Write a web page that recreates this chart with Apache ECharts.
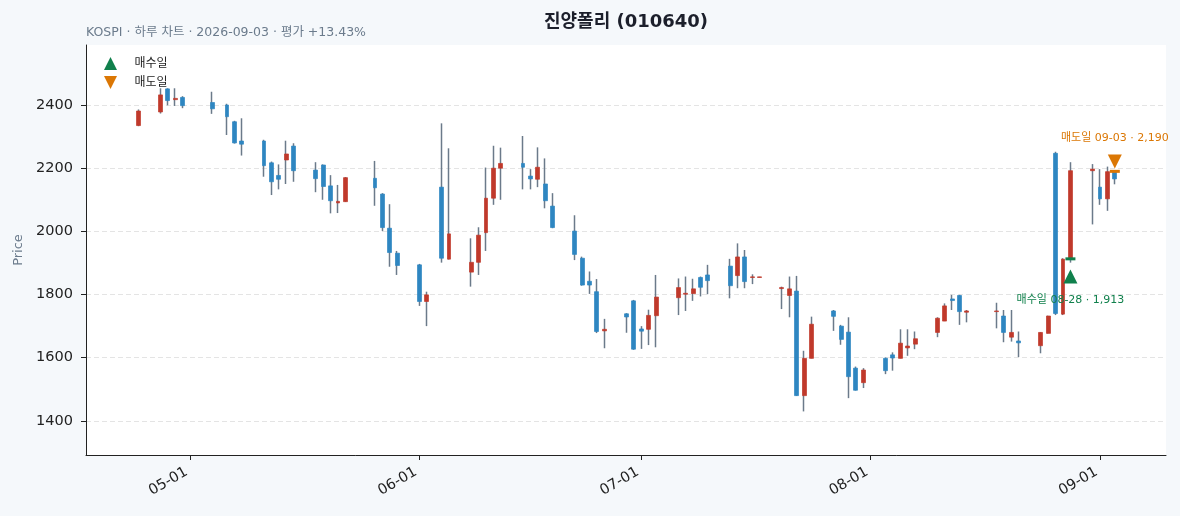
<!DOCTYPE html>
<html>
<head>
<meta charset="utf-8">
<script src="https://cdn.jsdelivr.net/npm/echarts@6/dist/echarts.min.js"></script>
<style>
html, body { margin: 0; padding: 0; background: #f5f8fb; }
#chart { width: 1180px; height: 516px; }
</style>
</head>
<body>
<div id="chart"></div>
<script>
// 일봉 데이터
var dates = [
	'2026-04-24', '2026-04-27', '2026-04-28', '2026-04-29', '2026-04-30',
	'2026-05-04', '2026-05-06', '2026-05-07', '2026-05-08', '2026-05-11',
	'2026-05-12', '2026-05-13', '2026-05-14', '2026-05-15', '2026-05-18',
	'2026-05-19', '2026-05-20', '2026-05-21', '2026-05-22', '2026-05-26',
	'2026-05-27', '2026-05-28', '2026-05-29', '2026-06-01', '2026-06-02',
	'2026-06-04', '2026-06-05', '2026-06-08', '2026-06-09', '2026-06-10',
	'2026-06-11', '2026-06-12', '2026-06-15', '2026-06-16', '2026-06-17',
	'2026-06-18', '2026-06-19', '2026-06-22', '2026-06-23', '2026-06-24',
	'2026-06-25', '2026-06-26', '2026-06-29', '2026-06-30', '2026-07-01',
	'2026-07-02', '2026-07-03', '2026-07-06', '2026-07-07', '2026-07-08',
	'2026-07-09', '2026-07-10', '2026-07-13', '2026-07-14', '2026-07-15',
	'2026-07-16', '2026-07-17', '2026-07-20', '2026-07-21', '2026-07-22',
	'2026-07-23', '2026-07-24', '2026-07-27', '2026-07-28', '2026-07-29',
	'2026-07-30', '2026-07-31', '2026-08-03', '2026-08-04', '2026-08-05',
	'2026-08-06', '2026-08-07', '2026-08-10', '2026-08-11', '2026-08-12',
	'2026-08-13', '2026-08-14', '2026-08-18', '2026-08-19', '2026-08-20',
	'2026-08-21', '2026-08-24', '2026-08-25', '2026-08-26', '2026-08-27',
	'2026-08-28', '2026-08-31', '2026-09-01', '2026-09-02', '2026-09-03'
];
var opens = [
	2335, 2378, 2451, 2417, 2424, 2408, 2400, 2347, 2286, 2286,
	2217, 2177, 2226, 2270, 2194, 2210, 2144, 2090, 2094, 2168,
	2118, 2010, 1931, 1894, 1778, 2140, 1912, 1871, 1902, 1996,
	2105, 2200, 2215, 2175, 2165, 2150, 2080, 2001, 1915, 1842,
	1809, 1685, 1739, 1780, 1691, 1690, 1733, 1790, 1801, 1803,
	1854, 1862, 1890, 1860, 1919, 1854, 1854, 1819, 1797, 1811,
	1480, 1598, 1748, 1700, 1681, 1567, 1521, 1598, 1609, 1598,
	1631, 1643, 1680, 1716, 1786, 1797, 1744, 1746, 1732, 1665,
	1653, 1638, 1677, 2247, 1738, 1913, 2192, 2140, 2103, 2190
];
var closes = [
	2381, 2432, 2414, 2421, 2398, 2388, 2363, 2280, 2276, 2208,
	2157, 2165, 2245, 2192, 2167, 2142, 2097, 2095, 2170, 2138,
	2012, 1933, 1892, 1778, 1799, 1915, 1992, 1902, 1988, 2105,
	2200, 2215, 2203, 2166, 2203, 2097, 2012, 1927, 1830, 1830,
	1683, 1690, 1729, 1627, 1684, 1734, 1792, 1822, 1804, 1818,
	1823, 1844, 1828, 1919, 1841, 1856, 1856, 1822, 1818, 1480,
	1598, 1706, 1731, 1658, 1540, 1497, 1561, 1559, 1599, 1646,
	1637, 1660, 1725, 1764, 1781, 1746, 1748, 1748, 1680, 1680,
	1647, 1680, 1732, 1740, 1912, 2192, 2197, 2103, 2189, 2166
];
var lows = [
	2333, 2373, 2399, 2397, 2390, 2372, 2305, 2278, 2240, 2173,
	2115, 2133, 2150, 2157, 2124, 2100, 2057, 2058, 2093, 2081,
	2001, 1888, 1862, 1764, 1700, 1901, 1911, 1825, 1862, 1938,
	2084, 2100, 2133, 2133, 2140, 2073, 2010, 1909, 1828, 1802,
	1678, 1630, 1679, 1625, 1628, 1640, 1633, 1735, 1748, 1780,
	1794, 1801, 1788, 1820, 1820, 1833, 1854, 1754, 1728, 1479,
	1430, 1598, 1685, 1641, 1472, 1496, 1504, 1548, 1559, 1598,
	1606, 1627, 1665, 1716, 1751, 1704, 1712, 1693, 1649, 1651,
	1602, 1614, 1677, 1735, 1735, 1901, 2022, 2084, 2065, 2149
];
var highs = [
	2386, 2453, 2453, 2453, 2428, 2442, 2404, 2350, 2358, 2290,
	2221, 2212, 2287, 2279, 2219, 2212, 2178, 2147, 2172, 2223,
	2121, 2086, 1938, 1897, 1809, 2342, 2263, 1978, 2013, 2202,
	2271, 2265, 2302, 2197, 2266, 2231, 2121, 2051, 1920, 1873,
	1849, 1723, 1741, 1783, 1700, 1752, 1862, 1851, 1857, 1850,
	1857, 1894, 1913, 1962, 1941, 1864, 1856, 1825, 1857, 1859,
	1622, 1730, 1751, 1704, 1728, 1572, 1567, 1601, 1617, 1690,
	1690, 1683, 1728, 1772, 1799, 1799, 1751, 1774, 1751, 1751,
	1683, 1681, 1733, 2252, 1915, 2219, 2213, 2197, 2205, 2194
];
var yTicks = [1400, 1600, 1800, 2000, 2200, 2400];
var xTicks = ['2026-05-01', '2026-06-01', '2026-07-01', '2026-08-01', '2026-09-01'];
// 매수/매도: [날짜, 체결가, 삼각형 표시 위치]
var buyPoint = ['2026-08-28', 1913, 1857];
var sellPoint = ['2026-09-03', 2190, 2221];

var upColor = '#c0392b';
var downColor = '#2e86c1';
var wickColor = '#6b7a8a';
var buyColor = '#10804c';
var sellColor = '#db7704';
var font = '"DejaVu Sans", "Noto Sans CJK KR", sans-serif';

function toTime(s) {
	var p = s.split('-');
	return Date.UTC(+p[0], +p[1] - 1, +p[2]);
}
function pad(n) { return (n < 10 ? '0' : '') + n; }
function fmtDay(t) {
	var d = new Date(t);
	return pad(d.getUTCMonth() + 1) + '-' + pad(d.getUTCDate());
}
function fmtPrice(v) {
	return String(v).replace(/\B(?=(\d{3})+(?!\d))/g, ',');
}

var wickData = dates.map(function (d, i) {
	return [toTime(d), opens[i], closes[i], lows[i], highs[i]];
});
var bodyData = dates.map(function (d, i) {
	return [toTime(d), opens[i], closes[i], Math.min(opens[i], closes[i]), Math.max(opens[i], closes[i])];
});
var xTickVals = xTicks.map(toTime);
var hour = 3600 * 1000;

var upTri = 'path://M5,0L10,10L0,10Z';
var downTri = 'path://M0,0L10,0L5,10Z';

var dom = document.getElementById('chart');
var myChart = echarts.init(dom);
var option = {
	animation: false,
	backgroundColor: '#f5f8fb',
	textStyle: { fontFamily: font },
	title: [{
		text: '진양폴리 (010640)',
		left: 626,
		top: 13,
		padding: 0,
		textAlign: 'center',
		textStyle: { fontSize: 18, fontWeight: 'bold', color: '#1c1f2b', fontFamily: font }
	}, {
		text: 'KOSPI · 하루 차트 · 2026-09-03 · 평가 +13.43%',
		left: 86,
		top: 26,
		padding: 0,
		textStyle: { fontSize: 12.5, fontWeight: 'normal', color: '#6b7b8c', fontFamily: font }
	}],
	legend: {
		data: ['매수일', '매도일'],
		orient: 'vertical',
		left: 104,
		top: 57,
		padding: 0,
		itemWidth: 14,
		itemHeight: 13,
		itemGap: 6,
		textStyle: { fontSize: 12, color: '#222', fontFamily: font, padding: [0, 0, 0, 12] }
	},
	grid: {
		left: 86,
		right: 14,
		top: 45,
		bottom: 61,
		show: true,
		backgroundColor: '#ffffff',
		borderWidth: 0
	},
	xAxis: {
		type: 'value',
		min: toTime('2026-04-17') - 1.5 * hour,
		max: toTime('2026-09-09') + 22 * hour,
		axisLine: { show: true, onZero: false, lineStyle: { color: '#222', width: 1 } },
		axisTick: { show: true, customValues: xTickVals, length: 5, lineStyle: { color: '#222' } },
		axisLabel: {
			customValues: xTickVals,
			rotate: 30,
			margin: 14,
			fontSize: 14.5,
			color: '#222',
			fontFamily: font,
			padding: [0, 4, 0, 0],
			formatter: function (v) { return fmtDay(v); }
		},
		splitLine: { show: false }
	},
	yAxis: {
		type: 'value',
		min: 1292,
		max: 2590,
		name: 'Price',
		nameLocation: 'middle',
		nameGap: 61,
		nameTextStyle: { color: '#6b7b8c', fontSize: 13, fontFamily: font },
		axisLine: { show: true, onZero: false, lineStyle: { color: '#222', width: 1 } },
		axisTick: { show: true, customValues: yTicks, length: 5, lineStyle: { color: '#222' } },
		axisLabel: {
			customValues: yTicks,
			margin: 13,
			fontSize: 14.5,
			color: '#222',
			fontFamily: font,
			formatter: function (v) { return String(v); }
		},
		splitLine: { show: true, lineStyle: { type: [5, 3], color: '#e4e4e4', width: 1 } }
	},
	series: [
		{
			name: 'wick',
			type: 'candlestick',
			data: wickData,
			barWidth: 1,
			silent: true,
			itemStyle: {
				color: 'rgba(0,0,0,0)',
				color0: 'rgba(0,0,0,0)',
				borderColor: wickColor,
				borderColor0: wickColor,
				borderWidth: 1.5
			}
		},
		{
			name: 'body',
			type: 'candlestick',
			data: bodyData,
			barWidth: 4.4,
			silent: true,
			itemStyle: {
				color: upColor,
				color0: downColor,
				borderColor: upColor,
				borderColor0: downColor,
				borderWidth: 0.7
			}
		},
		{
			name: 'buyLine',
			type: 'scatter',
			symbol: 'rect',
			symbolSize: [10, 3],
			itemStyle: { color: buyColor, opacity: 1 },
			data: [[toTime(buyPoint[0]), buyPoint[1]]],
			z: 4
		},
		{
			name: 'sellLine',
			type: 'scatter',
			symbol: 'rect',
			symbolSize: [10, 3],
			itemStyle: { color: sellColor, opacity: 1 },
			data: [[toTime(sellPoint[0]), sellPoint[1]]],
			z: 4
		},
		{
			name: '매수일',
			type: 'scatter',
			symbol: upTri,
			symbolKeepAspect: true,
			symbolSize: 14,
			itemStyle: { color: buyColor, opacity: 1 },
			data: [[toTime(buyPoint[0]), buyPoint[2]]],
			label: {
				show: true,
				position: 'bottom',
				distance: 11,
				fontSize: 11,
				color: buyColor,
				fontFamily: font,
				formatter: function () {
					return '매수일 ' + fmtDay(toTime(buyPoint[0])) + ' · ' + fmtPrice(buyPoint[1]);
				}
			},
			z: 5
		},
		{
			name: '매도일',
			type: 'scatter',
			symbol: downTri,
			symbolKeepAspect: true,
			symbolSize: 14,
			itemStyle: { color: sellColor, opacity: 1 },
			data: [[toTime(sellPoint[0]), sellPoint[2]]],
			label: {
				show: true,
				position: 'top',
				distance: 11,
				fontSize: 11,
				color: sellColor,
				fontFamily: font,
				formatter: function () {
					return '매도일 ' + fmtDay(toTime(sellPoint[0])) + ' · ' + fmtPrice(sellPoint[1]);
				}
			},
			z: 5
		}
	]
};
if (option && typeof option === 'object') {
	myChart.setOption(option, true);
}
</script>
</body>
</html>
